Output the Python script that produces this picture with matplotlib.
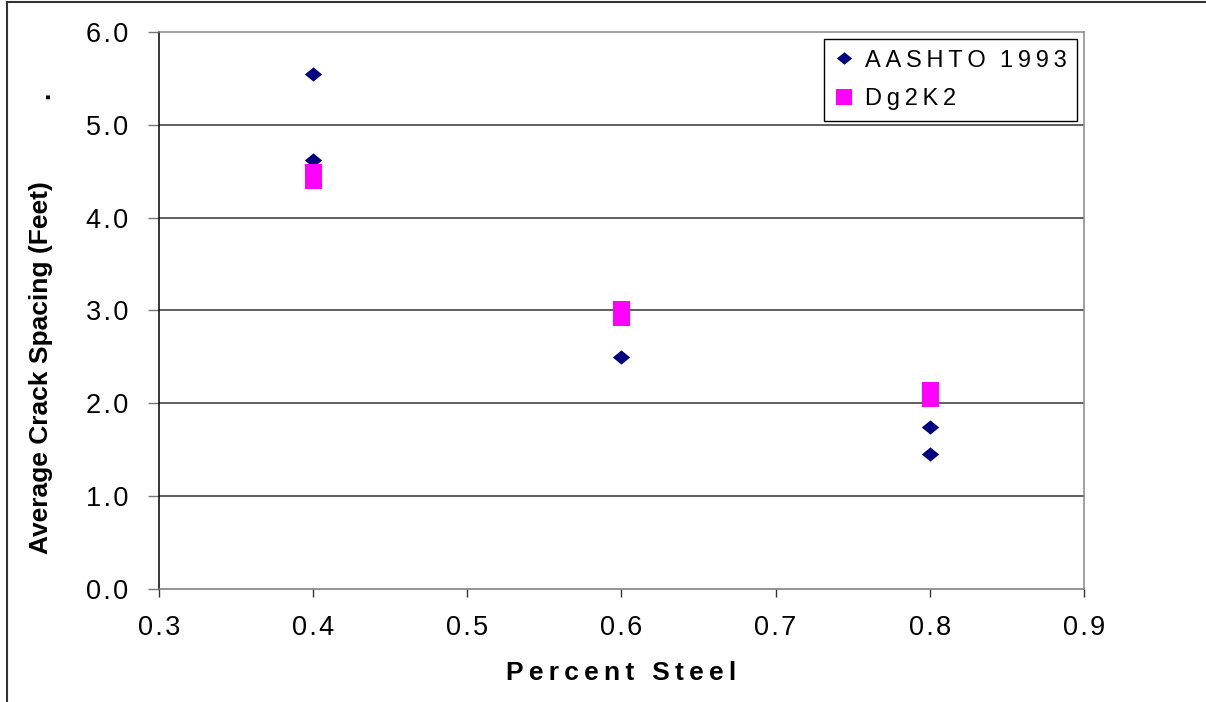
import matplotlib
matplotlib.use("Agg")
import matplotlib.pyplot as plt
from matplotlib.lines import Line2D

# crack spacing readings (feet) by percent steel
aashto_x = [0.4, 0.4, 0.6, 0.8, 0.8]
aashto_y = [5.55, 4.62, 2.50, 1.75, 1.45]
dg2k2_x = [0.4, 0.6, 0.8]
dg2k2_y = [4.45, 2.97, 2.10]

x_ticks = [0.3, 0.4, 0.5, 0.6, 0.7, 0.8, 0.9]
y_ticks = [0.0, 1.0, 2.0, 3.0, 4.0, 5.0, 6.0]

THIN = "\u2009"
HAIR = "\u200a"


def spaced(s, sep=THIN):
    return sep.join(s)


plt.rcParams["font.family"] = ["Liberation Sans", "DejaVu Sans"]

fig = plt.figure(figsize=(12.06, 7.02), dpi=100)
ax = fig.add_axes([0.1318, 0.161, 0.767, 0.7934])

diamond = [(0, 0.41), (0.5, 0), (0, -0.41), (-0.5, 0), (0, 0.41)]
rect = [(-0.34, -0.5), (0.34, -0.5), (0.34, 0.5), (-0.34, 0.5), (-0.34, -0.5)]

ax.plot(aashto_x, aashto_y, linestyle="none", marker=diamond, markersize=12.5,
        color="#000080", markeredgewidth=0, zorder=3)
ax.plot(dg2k2_x, dg2k2_y, linestyle="none", marker=rect, markersize=18,
        color="#FF00FF", markeredgewidth=0, zorder=4)

ax.set_xlim(0.3, 0.9)
ax.set_ylim(0, 6)
ax.set_xticks(x_ticks)
ax.set_yticks(y_ticks)
ax.set_xticklabels([spaced(f"{v:.1f}", HAIR) for v in x_ticks], fontsize=19.5)
ax.set_yticklabels([spaced(f"{v:.1f}", HAIR) for v in y_ticks], fontsize=19.5)
ax.tick_params(axis="x", direction="out", length=6, width=1, color="#333333", pad=13)
ax.tick_params(axis="y", direction="out", length=8, width=1, color="#777777", pad=14)

for y in y_ticks[1:-1]:
    ax.axhline(y, color="#333333", lw=1.1, zorder=1)
ax.spines["top"].set_color("#888888")
ax.spines["right"].set_color("#888888")
ax.spines["bottom"].set_color("#777777")
ax.spines["left"].set_color("black")
for s in ax.spines.values():
    s.set_linewidth(1.1)

ax.set_xlabel(spaced("Percent Steel"), fontsize=19, fontweight="bold", labelpad=14)
fig.text(0.034, 0.477, "Average Crack Spacing (Feet)", rotation=90,
         fontsize=19, fontweight="bold", ha="center", va="center")
fig.text(0.035, 0.864, ".", rotation=90, fontsize=19, fontweight="bold",
         ha="center", va="center")

handles = [
    Line2D([], [], linestyle="none", marker=diamond, markersize=11,
           color="#000080", markeredgewidth=0),
    Line2D([], [], linestyle="none", marker="s", markersize=12,
           color="#FF00FF", markeredgewidth=0),
]
labels = [spaced("AASHTO") + THIN * 3 + spaced("1993"), spaced("Dg2K2")]
leg = ax.legend(handles, labels, loc="upper right", bbox_to_anchor=(0.9924, 0.9874),
                borderaxespad=0, fontsize=17, frameon=True, fancybox=False,
                framealpha=1, edgecolor="black", handlelength=0.8,
                handletextpad=0.45, borderpad=0.45, labelspacing=0.7)
leg.get_frame().set_linewidth(1.0)

# outer frame lines along the top and left edges
fig.add_artist(Line2D([0.0058, 1.0], [0.9975, 0.9975], transform=fig.transFigure,
                      color="#333333", lw=1.5))
fig.add_artist(Line2D([0.0058, 0.0058], [0.0, 0.9975], transform=fig.transFigure,
                      color="#333333", lw=1.5))

fig.savefig("out.png", dpi=100)
